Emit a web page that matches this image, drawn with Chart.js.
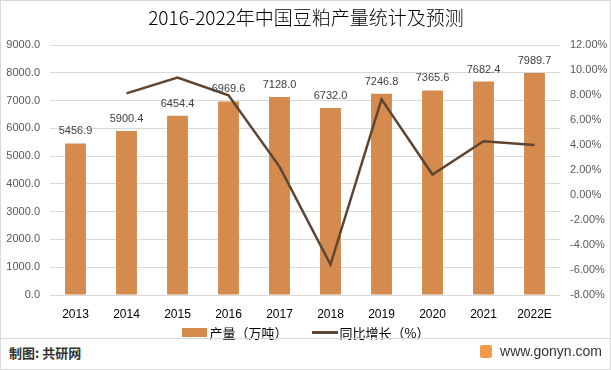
<!DOCTYPE html>
<html>
<head>
<meta charset="utf-8">
<script src="https://cdn.jsdelivr.net/npm/chart.js@4.4.1/dist/chart.umd.min.js"></script>
<style>
	body { margin: 0; background: #fff; font-family: "Noto Sans CJK SC", "Liberation Sans", sans-serif; }
	#wrap { position: relative; width: 611px; height: 370px; box-sizing: border-box; border: 1px solid #d9d9d9; overflow: hidden; }
	#box { position: absolute; left: 0; top: 0; width: 609px; height: 322px; }
	#legend { position: absolute; top: 320px; left: 0; width: 609px; text-align: center; font-size: 13px; color: #000; }
	#legend span { display: inline-block; vertical-align: middle; }
	.sw-bar { width: 25px; height: 9px; background: #D58B4D; margin-right: 3px; }
	.sw-line { width: 26px; height: 3px; background: #5E4531; margin-left: 24px; margin-right: 2px; }
	#sep { position: absolute; top: 337px; left: 0; width: 609px; height: 1px; background: #d9d9d9; }
	#src { position: absolute; top: 342px; left: 8px; font-size: 13px; font-weight: bold; color: #333; }
	#site { position: absolute; top: 342px; right: 8px; font-size: 14px; color: #333; font-family: "Liberation Sans", sans-serif; }
	#site i { display: inline-block; width: 12px; height: 13px; background: #F29A4A; vertical-align: -2px; margin-right: 8px; border-radius: 2px; }
</style>
</head>
<body>
<div id="wrap">
	<div id="box"><canvas id="chart"></canvas></div>
	<div id="legend"><span class="sw-bar"></span><span>产量（万吨）</span><span class="sw-line"></span><span>同比增长（%）</span></div>
	<div id="sep"></div>
	<div id="src">制图: 共研网</div>
	<div id="site"><i></i>www.gonyn.com</div>
</div>
<script>
var years = ['2013', '2014', '2015', '2016', '2017', '2018', '2019', '2020', '2021', '2022E'];
var output = [5456.9, 5900.4, 6454.4, 6969.6, 7128.0, 6732.0, 7246.8, 7365.6, 7682.4, 7989.7];
var growth = [null, 8.13, 9.39, 7.98, 2.27, -5.56, 7.65, 1.64, 4.30, 4.00];
var leftTicks = [0, 1000, 2000, 3000, 4000, 5000, 6000, 7000, 8000, 9000];
var rightTicks = [-8, -6, -4, -2, 0, 2, 4, 6, 8, 10, 12];

var titlePlugin = {
	id: 'titleText',
	afterDraw: function(chart) {
		var ctx = chart.ctx;
		ctx.save();
		ctx.font = '300 19px "Noto Sans CJK SC"';
		ctx.fillStyle = '#000';
		ctx.textAlign = 'center';
		ctx.textBaseline = 'middle';
		ctx.fillText('2016-2022年中国豆粕产量统计及预测', 305, 17);
		ctx.restore();
	}
};

var valueLabels = {
	id: 'valueLabels',
	afterDatasetsDraw: function(chart) {
		var ctx = chart.ctx;
		var meta = chart.getDatasetMeta(0);
		ctx.save();
		ctx.font = '11px "Liberation Sans"';
		ctx.fillStyle = '#404040';
		ctx.textAlign = 'center';
		ctx.textBaseline = 'middle';
		meta.data.forEach(function(bar, i) {
			ctx.fillText(output[i].toFixed(1), bar.x, bar.y - 12);
		});
		ctx.restore();
	}
};

var ctx = document.getElementById('chart');
var chart = new Chart(ctx, {
	data: {
		labels: years,
		datasets: [{
			type: 'bar',
			label: '产量（万吨）',
			data: output,
			backgroundColor: '#D58B4D',
			yAxisID: 'y',
			order: 2,
			categoryPercentage: 1,
			barPercentage: 0.41
		}, {
			type: 'line',
			label: '同比增长（%）',
			data: growth,
			borderColor: '#5E4531',
			borderWidth: 2.5,
			pointRadius: 0,
			yAxisID: 'y1',
			order: 1
		}]
	},
	options: {
		responsive: true,
		maintainAspectRatio: false,
		animation: false,
		layout: { padding: { top: 44, left: 0, right: 0, bottom: 0 } },
		plugins: {
			legend: { display: false },
			tooltip: { enabled: false }
		},
		scales: {
			x: {
				grid: { display: false },
				border: { display: false },
				ticks: { color: '#000', font: { size: 12, family: 'Liberation Sans' }, padding: 4, maxRotation: 0 },
				afterFit: function(scale) { scale.height = 28; }
			},
			y: {
				position: 'left',
				min: 0,
				max: 9000,
				afterBuildTicks: function(scale) { scale.ticks = leftTicks.map(function(v) { return { value: v }; }); },
				ticks: {
					color: '#595959',
					font: { size: 11, family: 'Liberation Sans' },
					padding: 10,
					callback: function(v) { return Number(v).toFixed(1); }
				},
				grid: { color: '#d9d9d9', drawTicks: false },
				border: { display: false },
				afterFit: function(scale) { scale.width = 49; }
			},
			y1: {
				position: 'right',
				min: -8,
				max: 12,
				afterBuildTicks: function(scale) { scale.ticks = rightTicks.map(function(v) { return { value: v }; }); },
				ticks: {
					color: '#595959',
					font: { size: 11, family: 'Liberation Sans' },
					padding: 10,
					callback: function(v) { return Number(v).toFixed(2) + '%'; }
				},
				grid: { display: false, drawTicks: false },
				border: { display: false },
				afterFit: function(scale) { scale.width = 50; }
			}
		}
	},
	plugins: [titlePlugin, valueLabels]
});
</script>
</body>
</html>
